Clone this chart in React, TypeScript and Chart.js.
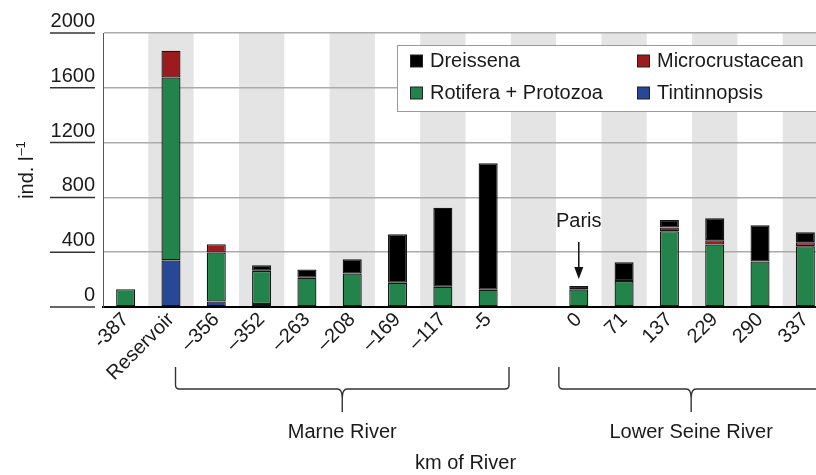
import React, { useEffect, useRef } from 'react';
import { Chart, registerables } from 'chart.js';

Chart.register(...registerables);

const FONT = '"Liberation Sans", Arial, Helvetica, sans-serif';

const categories = ['-387', 'Reservoir', '–356', '–352', '–263', '–208', '–169', '–117', '-5', '', '0', '71', '137', '229', '290', '337'];
const tintinnopsis = [null, 340, 40, 22, null, null, null, null, null, null, null, null, null, null, null, null];
const rotifera = [130, 1335, 358, 242, 213, 245, 177, 148, 126, null, 129, 189, 553, 456, 332, 444];
const microcrustacean = [null, 195, 60, null, null, null, null, null, null, null, null, null, 27, 31, null, 29];
const dreissena = [null, null, null, 41, 61, 104, 354, 577, 924, null, 24, 138, 55, 160, 264, 72];

const yTickValues = [0, 400, 800, 1200, 1600, 2000];
const legendRows = [
  ['Dreissena', 'Microcrustacean'],
  ['Rotifera + Protozoa', 'Tintinnopsis'],
];

const COLORS: Record<string, string> = {
  'Dreissena': '#000000',
  'Microcrustacean': '#9b1b1f',
  'Rotifera + Protozoa': '#22844a',
  'Tintinnopsis': '#274896',
};

const TEXT = '#1a1a1a';

function brace(ctx: CanvasRenderingContext2D, x1: number, x2: number, xm: number, yTop: number, yH: number, yTip: number) {
  const r = 4;
  ctx.beginPath();
  ctx.moveTo(x1, yTop);
  ctx.lineTo(x1, yH - r);
  ctx.quadraticCurveTo(x1, yH, x1 + r, yH);
  ctx.lineTo(xm - 5, yH);
  ctx.quadraticCurveTo(xm, yH, xm, yH + 9);
  ctx.lineTo(xm, yTip);
  ctx.moveTo(x2, yTop);
  ctx.lineTo(x2, yH - r);
  ctx.quadraticCurveTo(x2, yH, x2 - r, yH);
  ctx.lineTo(xm + 5, yH);
  ctx.quadraticCurveTo(xm, yH, xm, yH + 9);
  ctx.stroke();
}

const decorPlugin = {
  id: 'decor',
  beforeDraw(chart: any) {
    const { ctx, chartArea, scales } = chart;
    const x = scales.x;
    const w = (chartArea.right - chartArea.left) / categories.length;
    ctx.save();
    ctx.fillStyle = '#e4e4e4';
    for (let i = 0; i < categories.length; i++) {
      if (i % 2 === 1) {
        const c = x.getPixelForValue(i);
        ctx.fillRect(c - w / 2, chartArea.top, w, chartArea.bottom - chartArea.top);
      }
    }
    ctx.restore();
  },
  afterDraw(chart: any) {
    const { ctx, chartArea, scales } = chart;
    const x = scales.x;
    const y = scales.y;
    const w = (chartArea.right - chartArea.left) / categories.length;
    ctx.save();

    // y tick labels with underlines
    ctx.font = `20px ${FONT}`;
    ctx.fillStyle = TEXT;
    ctx.textAlign = 'right';
    ctx.textBaseline = 'alphabetic';
    ctx.strokeStyle = '#333';
    ctx.lineWidth = 1.5;
    for (const v of yTickValues) {
      const py = y.getPixelForValue(v);
      ctx.beginPath();
      ctx.moveTo(50, py);
      ctx.lineTo(95, py);
      ctx.stroke();
      ctx.fillText(String(v), 95, py - 6);
    }

    // y axis title
    ctx.save();
    const cy = (chartArea.top + chartArea.bottom) / 2;
    ctx.translate(33, cy);
    ctx.rotate(-Math.PI / 2);
    ctx.font = `20px ${FONT}`;
    const main = 'ind. l';
    const w1 = ctx.measureText(main).width;
    ctx.font = `13px ${FONT}`;
    const sup = '–1';
    const w2 = ctx.measureText(sup).width;
    const start = -(w1 + w2 + 1) / 2;
    ctx.textAlign = 'left';
    ctx.font = `20px ${FONT}`;
    ctx.fillText(main, start, 0);
    ctx.font = `13px ${FONT}`;
    ctx.fillText(sup, start + w1 + 1, -8);
    ctx.restore();

    // legend
    const lx = 397.5, ly = 45.5, lh = 66;
    ctx.fillStyle = '#ffffff';
    ctx.fillRect(lx, ly, 460, lh);
    ctx.strokeStyle = '#9a9a9a';
    ctx.lineWidth = 1;
    ctx.strokeRect(lx, ly, 460, lh);
    const colX = [410, 637];
    const rowY = [60.5, 92.5];
    ctx.font = `20px ${FONT}`;
    ctx.textAlign = 'left';
    ctx.textBaseline = 'middle';
    legendRows.forEach((row, ri) => {
      row.forEach((label, ci) => {
        const sx = colX[ci];
        const sy = rowY[ri];
        ctx.fillStyle = COLORS[label];
        ctx.fillRect(sx + 0.5, sy - 5.5, 12, 12);
        ctx.strokeStyle = '#222';
        ctx.lineWidth = 1;
        ctx.strokeRect(sx + 0.5, sy - 5.5, 12, 12);
        ctx.fillStyle = TEXT;
        ctx.fillText(label, sx + 20, sy + 1);
      });
    });

    // Paris annotation
    const px = x.getPixelForValue(10);
    const barTop = y.getPixelForValue((rotifera[10] || 0) + (dreissena[10] || 0));
    const tip = barTop - 7;
    const aTop = tip - 37;
    ctx.strokeStyle = '#111';
    ctx.lineWidth = 1.5;
    ctx.beginPath();
    ctx.moveTo(px, aTop);
    ctx.lineTo(px, tip - 8);
    ctx.stroke();
    ctx.fillStyle = '#111';
    ctx.beginPath();
    ctx.moveTo(px - 4.5, tip - 12);
    ctx.lineTo(px + 4.5, tip - 12);
    ctx.lineTo(px, tip);
    ctx.closePath();
    ctx.fill();
    ctx.fillStyle = TEXT;
    ctx.textAlign = 'center';
    ctx.textBaseline = 'alphabetic';
    ctx.fillText('Paris', px, aTop - 15);

    // braces
    ctx.strokeStyle = '#333';
    ctx.lineWidth = 1.4;
    const mL = x.getPixelForValue(2) - 0.9 * w;
    const mR = x.getPixelForValue(8) + 0.46 * w;
    const mM = (mL + mR) / 2;
    brace(ctx, mL, mR, mM, 367, 389, 412);
    const sL = x.getPixelForValue(10) - 0.44 * w;
    const sR = x.getPixelForValue(15) + 0.4 * w;
    const sM = (sL + sR) / 2;
    brace(ctx, sL, sR, sM, 367, 389, 412);

    ctx.fillStyle = TEXT;
    ctx.font = `20px ${FONT}`;
    ctx.textAlign = 'center';
    ctx.textBaseline = 'middle';
    ctx.fillText('Marne River', mM, 432);
    ctx.fillText('Lower Seine River', sM, 432);
    ctx.fillText('km of River', (chartArea.left + chartArea.right) / 2, 463);

    ctx.restore();
  },
};

export default function App() {
  const ref = useRef<HTMLCanvasElement>(null);
  useEffect(() => {
    const mk = (label: string, data: (number | null)[]) => ({
      label,
      data,
      backgroundColor: COLORS[label],
      borderColor: '#161616',
      borderWidth: 1.3,
      borderSkipped: false,
      barPercentage: 0.42,
      categoryPercentage: 1,
    });
    const chart = new Chart(ref.current as HTMLCanvasElement, {
      type: 'bar',
      data: {
        labels: categories,
        datasets: [
          mk('Tintinnopsis', tintinnopsis),
          mk('Rotifera + Protozoa', rotifera),
          mk('Microcrustacean', microcrustacean),
          mk('Dreissena', dreissena),
        ] as any,
      },
      options: {
        responsive: false,
        animation: false,
        devicePixelRatio: 1,
        layout: { padding: { top: 33, left: 0, right: 12, bottom: 0 } },
        plugins: { legend: { display: false }, tooltip: { enabled: false } },
        scales: {
          x: {
            stacked: true,
            offset: true,
            grid: { display: false, drawTicks: false },
            border: { display: true, color: '#000', width: 2 },
            ticks: {
              autoSkip: false,
              maxRotation: 45,
              minRotation: 45,
              padding: 1,
              color: TEXT,
              font: { size: 20, family: FONT },
            },
            afterFit: (s: any) => { s.height = 168; },
          },
          y: {
            stacked: true,
            min: 0,
            max: 2000,
            ticks: { stepSize: 400, display: false },
            grid: {
              color: (c: any) => (c.tick && c.tick.value === 0 ? 'rgba(0,0,0,0)' : '#ababab'),
              lineWidth: 1.5,
              drawTicks: false,
            },
            border: { display: true, color: '#555', width: 1 },
            afterFit: (s: any) => { s.width = 103; },
          },
        },
      } as any,
      plugins: [decorPlugin],
    });
    return () => chart.destroy();
  }, []);
  return (
    <div style={{ position: 'fixed', left: 0, top: 0, width: 816, height: 475, overflow: 'hidden', background: '#fff' }}>
      <canvas ref={ref} width={840} height={475} style={{ display: 'block', width: 840, height: 475 }} />
    </div>
  );
}
